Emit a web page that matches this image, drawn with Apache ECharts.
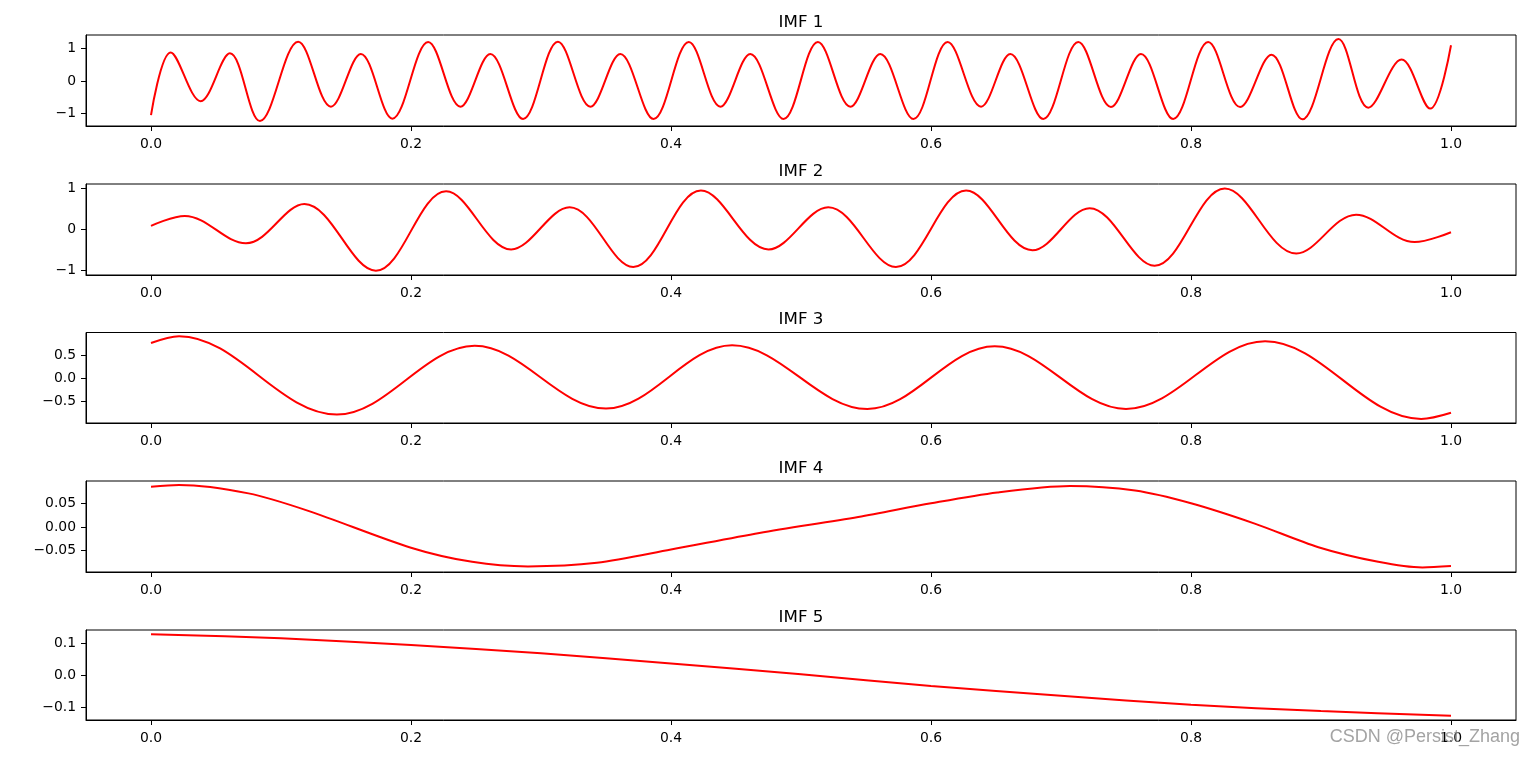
<!DOCTYPE html>
<html>
<head>
<meta charset="utf-8">
<script src="https://cdn.jsdelivr.net/npm/echarts@6/dist/echarts.min.js"></script>
<style>
html,body{margin:0;padding:0;background:#fff;}
#chart{width:1536px;height:757px;}
</style>
</head>
<body>
<div id="chart"></div>
<script>
// ---- data ----
const titles = ['IMF 1', 'IMF 2', 'IMF 3', 'IMF 4', 'IMF 5'];
const xTicks = [0, 0.2, 0.4, 0.6, 0.8, 1.0];

const yTicks1 = [-1, 0, 1];
const yTicks2 = [-1, 0, 1];
const yTicks3 = [-0.5, 0, 0.5];
const yTicks4 = [-0.05, 0, 0.05];
const yTicks5 = [-0.1, 0, 0.1];

const imf1 = [
  [0, -1.05], [0.0151, 0.88], [0.0382, -0.62], [0.0607, 0.85], [0.0838, -1.23],
  [0.1132, 1.21], [0.1384, -0.79], [0.1614, 0.83], [0.1857, -1.16],
  [0.2132, 1.20], [0.2380, -0.79], [0.2610, 0.83], [0.2862, -1.17],
  [0.3130, 1.21], [0.3380, -0.79], [0.3610, 0.83], [0.3866, -1.17],
  [0.4137, 1.20], [0.4380, -0.79], [0.4610, 0.83], [0.4866, -1.17],
  [0.5130, 1.20], [0.5380, -0.79], [0.5610, 0.83], [0.5865, -1.17],
  [0.6128, 1.20], [0.6385, -0.79], [0.6610, 0.83], [0.6864, -1.17],
  [0.7133, 1.20], [0.7384, -0.80], [0.7615, 0.83], [0.7863, -1.17],
  [0.8132, 1.20], [0.8378, -0.80], [0.8619, 0.81], [0.8857, -1.18],
  [0.9134, 1.29], [0.9364, -0.82], [0.9620, 0.66], [0.9840, -0.85],
  [1.0, 1.10]
];

const imf2 = [
  [0, 0.086], [0.026, 0.33], [0.073, -0.34], [0.118, 0.62], [0.173, -1.01],
  [0.227, 0.93], [0.277, -0.49], [0.322, 0.54], [0.371, -0.92],
  [0.423, 0.95], [0.475, -0.49], [0.521, 0.54], [0.573, -0.92],
  [0.627, 0.95], [0.678, -0.51], [0.722, 0.52], [0.772, -0.89],
  [0.826, 1.00], [0.881, -0.59], [0.927, 0.36], [0.972, -0.31], [1.0, -0.07]
];

const imf3 = [
  [0, 0.77], [0.0216, 0.92], [0.143, -0.79], [0.249, 0.71], [0.350, -0.66],
  [0.447, 0.72], [0.551, -0.67], [0.649, 0.70], [0.750, -0.67],
  [0.857, 0.81], [0.977, -0.885], [1.0, -0.75]
];

const imf4 = [
  [0, 0.085], [0.0216, 0.0887], [0.075, 0.071], [0.121, 0.034], [0.2, -0.044],
  [0.247, -0.074], [0.290, -0.0836], [0.343, -0.076], [0.400, -0.048],
  [0.468, -0.0128], [0.544, 0.021], [0.6, 0.050], [0.651, 0.073],
  [0.707, 0.0866], [0.757, 0.077], [0.8, 0.050], [0.849, 0.007],
  [0.898, -0.043], [0.944, -0.074], [0.978, -0.086], [1.0, -0.083]
];

const imf5 = [
  [0, 0.129], [0.1, 0.116], [0.2, 0.095], [0.3, 0.069], [0.4, 0.037],
  [0.5, 0.003], [0.6, -0.034], [0.7, -0.065], [0.8, -0.093], [0.9, -0.113], [1.0, -0.128]
];

const yRanges = [[-1.385, 1.415], [-1.115, 1.11], [-0.975, 1.0], [-0.0955, 0.0972], [-0.141, 0.142]];
const yDecimals = [0, 0, 1, 2, 1];
const xRange = [-0.05, 1.05];
const watermark = 'CSDN @Persist_Zhang';

// ---- layout / style ----
const series = [imf1, imf2, imf3, imf4, imf5];
const yTicks = [yTicks1, yTicks2, yTicks3, yTicks4, yTicks5];
const smooths = [0.36, 0.36, 0.36, 0.3, 0.3];
const gridTops = [35, 184, 332.5, 481, 630];
const gridHeights = [91, 91, 90.5, 91, 90];
const LEFT = 86, WIDTH = 1430;
const FONT = '"DejaVu Sans", "Liberation Sans", sans-serif';
const minus = s => s.replace('-', '\u2212');

const chart = echarts.init(document.getElementById('chart'), null, {renderer: 'canvas'});

const grids = [], xAxes = [], yAxes = [], ser = [], graphics = [];
series.forEach((d, i) => {
  grids.push({left: LEFT, width: WIDTH, top: gridTops[i], height: gridHeights[i],
    show: true, borderColor: '#000', borderWidth: 1, backgroundColor: 'transparent', containLabel: false});
  xAxes.push({
    type: 'value', gridIndex: i, min: xRange[0], max: xRange[1],
    axisLine: {show: true, onZero: false, lineStyle: {color: '#000', width: 1}},
    axisTick: {show: true, inside: false, length: 5, lineStyle: {color: '#000', width: 1}, customValues: xTicks},
    axisLabel: {show: true, margin: 11, color: '#000', fontSize: 13.9, fontFamily: FONT,
      customValues: xTicks, formatter: v => minus(Number(v).toFixed(1))},
    splitLine: {show: false}
  });
  yAxes.push({
    type: 'value', gridIndex: i, min: yRanges[i][0], max: yRanges[i][1],
    axisLine: {show: true, onZero: false, lineStyle: {color: '#000', width: 1}},
    axisTick: {show: true, inside: false, length: 5, lineStyle: {color: '#000', width: 1}, customValues: yTicks[i]},
    axisLabel: {show: true, margin: 10, color: '#000', fontSize: 13.9, fontFamily: FONT,
      customValues: yTicks[i], formatter: v => minus(Number(v).toFixed(yDecimals[i]))},
    splitLine: {show: false}
  });
  ser.push({
    type: 'line', xAxisIndex: i, yAxisIndex: i, data: d, showSymbol: false, symbol: 'none',
    smooth: smooths[i], lineStyle: {color: '#ff0000', width: 2}, silent: true, clip: true
  });
  graphics.push({
    type: 'text', x: LEFT + WIDTH / 2, y: gridTops[i] - 12.5,
    style: {text: titles[i], font: '16.7px ' + FONT, fill: '#000',
      textAlign: 'center', textVerticalAlign: 'middle', align: 'center', verticalAlign: 'middle'}
  });
});
graphics.push({
  type: 'text', x: 1520, y: 737, z: 100,
  style: {text: watermark, font: '18px "Liberation Sans", Arial, sans-serif', fill: 'rgba(140,140,140,0.8)',
    textAlign: 'right', textVerticalAlign: 'middle', align: 'right', verticalAlign: 'middle'}
});

chart.setOption({
  animation: false,
  backgroundColor: '#fff',
  grid: grids,
  xAxis: xAxes,
  yAxis: yAxes,
  series: ser,
  graphic: graphics
});
</script>
</body>
</html>
